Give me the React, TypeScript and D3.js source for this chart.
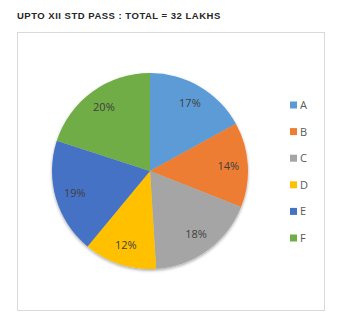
import React from "react";
import * as d3 from "d3";

const categories = ["A", "B", "C", "D", "E", "F"];
const values = [17, 14, 18, 12, 19, 20];
const colors = ["#5B9BD5", "#ED7D31", "#A5A5A5", "#FFC000", "#4472C4", "#70AD47"];
const title = "UPTO XII STD PASS : TOTAL = 32 LAKHS";

export default function App() {
  const W = 350, H = 332;
  const cx = 150, cy = 171, r = 98;
  const pie = d3.pie<number>().sort(null).value((d) => d)(values);
  const arc = d3.arc<d3.PieArcDatum<number>>().innerRadius(0).outerRadius(r);
  const labelArc = d3.arc<d3.PieArcDatum<number>>().innerRadius(r * 0.8).outerRadius(r * 0.8);
  const total = d3.sum(values);
  const legendY = d3.scalePoint<string>().domain(categories).range([105, 238]);
  return (
    <svg width={W} height={H} style={{ position: "absolute", left: 0, top: 0 }}>
      <defs>
        <filter id="sh" x="-20%" y="-20%" width="140%" height="140%">
          <feDropShadow dx="0" dy="1.5" stdDeviation="1.5" floodColor="#000" floodOpacity="0.35" />
        </filter>
      </defs>
      <rect width={W} height={H} fill="#fff" />
      <text x={17} y={19} fontFamily="Liberation Sans, Arial, sans-serif" fontWeight="bold" fontSize={9.5} letterSpacing={0.5} fill="#262626">
        {title}
      </text>
      <rect x={17.5} y={32.5} width={307} height={278} fill="#fff" stroke="#d9d9d9" strokeWidth={1} />
      <g transform={`translate(${cx},${cy})`} filter="url(#sh)">
        {pie.map((p, i) => (
          <path key={i} d={arc(p) || ""} fill={colors[i]} />
        ))}
      </g>
      <g transform={`translate(${cx},${cy})`}>
        {pie.map((p, i) => {
          const [x, y] = labelArc.centroid(p);
          return (
            <text key={i} x={x} y={y} dy="0.35em" textAnchor="middle" fontFamily="Open Sans, Calibri, sans-serif" fontSize={11} fill="#404040">
              {Math.round((p.data / total) * 100)}%
            </text>
          );
        })}
      </g>
      {categories.map((c, i) => (
        <g key={c} transform={`translate(290,${legendY(c)})`}>
          <rect x={0} y={-3.5} width={7} height={7} fill={colors[i]} />
          <text x={10} y={0} dy="0.36em" fontFamily="Open Sans, Calibri, sans-serif" fontSize={11} fill="#595959">
            {c}
          </text>
        </g>
      ))}
    </svg>
  );
}
